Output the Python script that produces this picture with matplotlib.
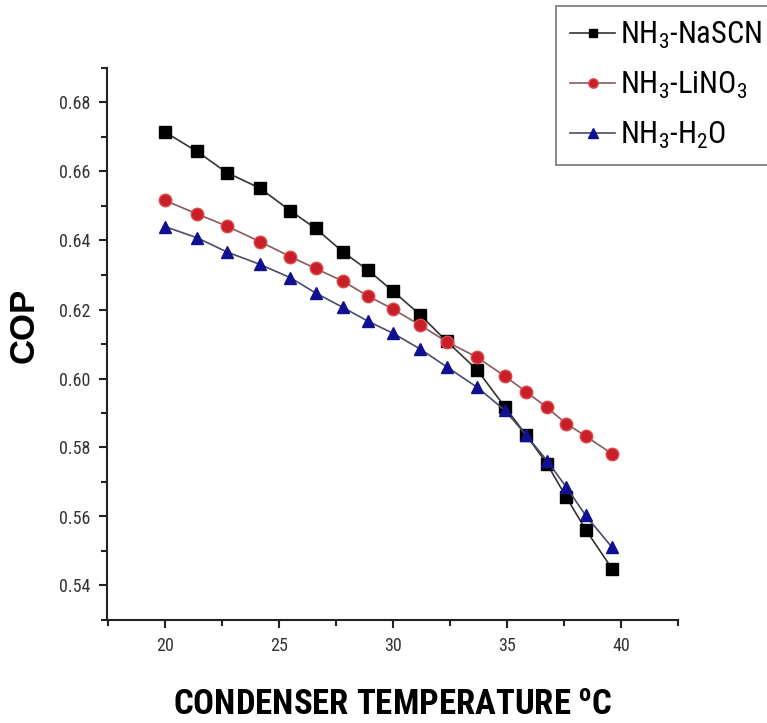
import matplotlib
matplotlib.use("Agg")
import matplotlib.pyplot as plt
from matplotlib.ticker import MultipleLocator, FormatStrFormatter
from matplotlib import font_manager as fm

available = {f.name for f in fm.fontManager.ttflist}
preferred = ['Roboto Condensed', 'Archivo Narrow', 'Liberation Sans']
main_font = next((f for f in preferred if f in available), 'DejaVu Sans')
plt.rcParams['font.family'] = [main_font, 'DejaVu Sans']
plt.rcParams['mathtext.fontset'] = 'custom'
plt.rcParams['mathtext.rm'] = main_font
plt.rcParams['mathtext.it'] = main_font
plt.rcParams['mathtext.bf'] = main_font + ':bold'

temp = [20.0, 21.4, 22.7, 24.15, 25.5, 26.6, 27.8, 28.9, 30.0, 31.2, 32.35,
        33.7, 34.9, 35.85, 36.75, 37.6, 38.45, 39.6]
cop_nascn = [0.6714, 0.6658, 0.6597, 0.6552, 0.6486, 0.6435, 0.6367, 0.6314, 0.6253,
             0.6184, 0.6108, 0.6024, 0.5918, 0.5835, 0.5753, 0.5656, 0.5562, 0.5449]
cop_lino3 = [0.6516, 0.6477, 0.6442, 0.6397, 0.6353, 0.6319, 0.6282, 0.6239, 0.6201,
             0.6154, 0.6107, 0.6061, 0.6007, 0.5961, 0.5916, 0.5869, 0.5833, 0.5782]
cop_h2o = [0.6440, 0.6408, 0.6367, 0.6331, 0.6292, 0.6248, 0.6206, 0.6166, 0.6131,
           0.6085, 0.6034, 0.5974, 0.5908, 0.5835, 0.5762, 0.5685, 0.5603, 0.5511]
labels = [r'NH$_3$-NaSCN', r'NH$_3$-LiNO$_3$', r'NH$_3$-H$_2$O']

fig = plt.figure(figsize=(7.67, 7.23), dpi=100)
ax = fig.add_axes([107/767, 1-620/723, (678-107)/767, (620-68)/723])

ax.plot(temp, cop_nascn, color='#333333', lw=1.2, marker='s', ms=8,
        mfc='black', mec='black', label=labels[0])
ax.plot(temp, cop_lino3, color='#8a5a5a', lw=1.2, marker='o', ms=9,
        mfc='#c8202a', mec='#e04848', label=labels[1])
ax.plot(temp, cop_h2o, color='#4a4a6a', lw=1.2, marker='^', ms=9,
        mfc='#101090', mec='#101090', label=labels[2])

ax.set_xlim(17.45, 42.5)
ax.set_ylim(0.53, 0.69)
ax.xaxis.set_major_locator(MultipleLocator(5))
ax.xaxis.set_minor_locator(MultipleLocator(2.5))
ax.yaxis.set_major_locator(MultipleLocator(0.02))
ax.yaxis.set_minor_locator(MultipleLocator(0.01))
ax.yaxis.set_major_formatter(FormatStrFormatter('%.2f'))
ax.spines['top'].set_visible(False)
ax.spines['right'].set_visible(False)
for s in ('left', 'bottom'):
    ax.spines[s].set_linewidth(1.5)
    ax.spines[s].set_color('#222222')
ax.tick_params(which='major', direction='out', length=6, width=1.5, labelsize=13,
               colors='#222222', labelcolor='#333333', pad=6)
ax.tick_params(which='minor', direction='out', length=4, width=1.5, colors='#222222')

ylab_font = 'Liberation Sans' if 'Liberation Sans' in available else main_font
ax.set_ylabel('COP', fontsize=25, fontweight='bold', family=[ylab_font, 'DejaVu Sans'])
ax.yaxis.set_label_coords((41 - 107) / 571, (620 - 325) / 552)
ax.set_xlabel(r'CONDENSER TEMPERATURE $^{\mathbf{o}}$C', fontsize=25,
              fontweight='bold', labelpad=25)

leg = fig.legend(loc='upper right', bbox_to_anchor=(776/767, 1-6/723),
                 bbox_transform=fig.transFigure, fontsize=22, frameon=True,
                 fancybox=False, edgecolor='#555555', handlelength=1.5,
                 handletextpad=0.15, borderpad=0.45, labelspacing=0.62,
                 borderaxespad=0, markerscale=0.75)
leg.get_frame().set_linewidth(1.2)

fig.savefig('out.png', dpi=100)
